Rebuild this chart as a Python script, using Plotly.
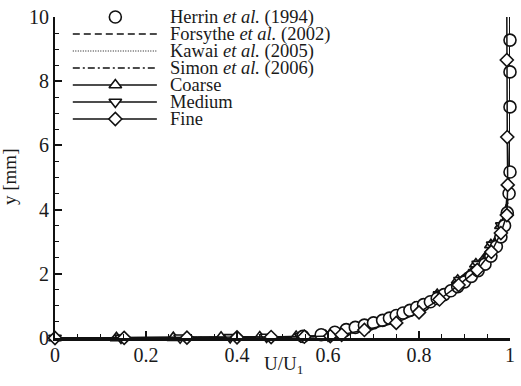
import plotly.graph_objects as go

# Herrin et al. (1994) measurements: U/U1 and y [mm]
herrin_u = [0.545, 0.585, 0.615, 0.64, 0.66, 0.68, 0.70, 0.72, 0.735, 0.75, 0.765, 0.78,
            0.795, 0.81, 0.825, 0.84, 0.855, 0.87, 0.885, 0.90, 0.915, 0.93, 0.945, 0.958,
            0.97, 0.98, 0.988, 0.994, 0.998, 1.0, 1.0, 1.0, 1.0]
herrin_y = [0.05, 0.10, 0.18, 0.26, 0.33, 0.40, 0.47, 0.55, 0.62, 0.70, 0.78, 0.86,
            0.95, 1.04, 1.13, 1.23, 1.35, 1.47, 1.60, 1.75, 1.92, 2.10, 2.30, 2.55,
            2.85, 3.15, 3.50, 3.90, 4.50, 5.17, 7.20, 8.29, 9.28]

# Reference computations (lines only)
forsythe_u = [0, 0.50, 0.59, 0.625, 0.66, 0.70, 0.73, 0.77, 0.805, 0.84, 0.87, 0.905,
              0.935, 0.958, 0.975, 0.986, 0.993, 0.997, 0.999, 1.0, 1.0, 1.0]
forsythe_y = [0, 0.02, 0.05, 0.10, 0.20, 0.35, 0.50, 0.75, 1.0, 1.3, 1.6, 2.0,
              2.4, 2.8, 3.2, 3.6, 4.0, 4.5, 5.0, 6.0, 8.0, 10.0]

kawai_u = [0, 0.52, 0.60, 0.635, 0.67, 0.71, 0.74, 0.78, 0.81, 0.845, 0.875, 0.91,
           0.94, 0.962, 0.978, 0.988, 0.994, 0.998, 1.0, 1.0, 1.0, 1.0]
kawai_y = [0, 0.02, 0.05, 0.10, 0.20, 0.35, 0.50, 0.75, 1.0, 1.3, 1.6, 2.0,
           2.4, 2.8, 3.2, 3.6, 4.0, 4.5, 5.0, 6.0, 8.0, 10.0]

simon_u = [0, 0.48, 0.58, 0.615, 0.655, 0.695, 0.725, 0.765, 0.80, 0.835, 0.865, 0.90,
           0.93, 0.955, 0.972, 0.984, 0.992, 0.996, 0.999, 1.0, 1.0, 1.0]
simon_y = [0, 0.02, 0.05, 0.10, 0.20, 0.35, 0.50, 0.75, 1.0, 1.3, 1.6, 2.0,
           2.4, 2.8, 3.2, 3.6, 4.0, 4.5, 5.0, 6.0, 8.0, 10.0]

# Present simulations on three grids
coarse_u = [0, 0.135, 0.26, 0.365, 0.45, 0.53, 0.595, 0.63, 0.685, 0.74, 0.79, 0.84,
            0.885, 0.925, 0.958, 0.98, 0.992, 0.998, 1.0, 1.0, 1.0]
coarse_y = [0, 0.005, 0.01, 0.02, 0.03, 0.045, 0.07, 0.15, 0.35, 0.60, 0.95, 1.35,
            1.80, 2.30, 2.90, 3.50, 4.20, 5.20, 6.80, 8.50, 10.0]

medium_u = [0, 0.145, 0.275, 0.385, 0.465, 0.54, 0.60, 0.635, 0.69, 0.745, 0.795, 0.845,
            0.89, 0.93, 0.962, 0.982, 0.993, 0.998, 1.0, 1.0, 1.0]
medium_y = [0, 0.005, 0.01, 0.02, 0.03, 0.045, 0.07, 0.15, 0.35, 0.60, 0.95, 1.35,
            1.80, 2.30, 2.90, 3.50, 4.20, 5.20, 6.80, 8.50, 10.0]

fine_u = [0, 0.152, 0.29, 0.40, 0.475, 0.548, 0.605, 0.63, 0.68, 0.75, 0.80, 0.845,
          0.887, 0.928, 0.959, 0.98, 0.993, 0.995, 0.994, 0.993, 0.993]
fine_y = [0, 0.005, 0.01, 0.02, 0.03, 0.04, 0.06, 0.10, 0.25, 0.47, 0.80, 1.20,
          1.65, 2.12, 2.68, 3.27, 3.83, 4.77, 6.26, 8.66, 10.0]

legend_labels = ["Herrin <i>et al.</i> (1994)", "Forsythe <i>et al.</i> (2002)",
                 "Kawai <i>et al.</i> (2005)", "Simon <i>et al.</i> (2006)",
                 "Coarse", "Medium", "Fine"]

FONT = "Liberation Serif"
INK = "#111111"
TXT = "#1a1a1a"
LW = 1.5
MSIZE = 11


def open_marker(symbol, size=MSIZE):
    return dict(symbol=symbol, size=size, color="white", opacity=1,
                line=dict(color=INK, width=1.6))


def symbols_below(ys, top, size):
    # Symbols are only drawn on the lower part of each profile; the line continues above
    return [size if yy < top else 0 for yy in ys]


fig = go.Figure()

fig.add_trace(go.Scatter(x=forsythe_u, y=forsythe_y, mode="lines", cliponaxis=False,
                         line=dict(color=INK, width=LW, dash="7px,4px")))
fig.add_trace(go.Scatter(x=kawai_u, y=kawai_y, mode="lines", cliponaxis=False,
                         line=dict(color=INK, width=1.2, dash="1px,1.5px")))
fig.add_trace(go.Scatter(x=simon_u, y=simon_y, mode="lines", cliponaxis=False,
                         line=dict(color=INK, width=LW, dash="7px,3px,2px,3px")))

m = open_marker("triangle-up")
m["size"] = symbols_below(coarse_y, 4.0, MSIZE)
fig.add_trace(go.Scatter(x=coarse_u, y=coarse_y, mode="lines+markers", cliponaxis=False,
                         line=dict(color=INK, width=LW), marker=m))
m = open_marker("triangle-down")
m["size"] = symbols_below(medium_y, 4.0, MSIZE)
fig.add_trace(go.Scatter(x=medium_u, y=medium_y, mode="lines+markers", cliponaxis=False,
                         line=dict(color=INK, width=LW), marker=m))
fig.add_trace(go.Scatter(x=herrin_u, y=herrin_y, mode="markers", cliponaxis=False,
                         marker=open_marker("circle", 12)))
m = open_marker("diamond", 10)
m["size"] = symbols_below(fine_y, 9.5, 10)
fig.add_trace(go.Scatter(x=fine_u, y=fine_y, mode="lines+markers", cliponaxis=False,
                         line=dict(color=INK, width=LW), marker=m))

# Legend keys drawn on an overlay axis measured in page pixels
ROW0, ROW_STEP = 17, 17
KEY_X0, KEY_X1, KEY_MID, TEXT_X = 73, 158, 116, 169
key_styles = [
    (None, "circle", 12),
    ("7px,4px", None, 0),
    ("1px,1.5px", None, 0),
    ("7px,3px,2px,3px", None, 0),
    ("solid", "triangle-up", MSIZE),
    ("solid", "triangle-down", MSIZE),
    ("solid", "diamond", 10),
]
for i, (dash, sym, size) in enumerate(key_styles):
    row = ROW0 + i * ROW_STEP
    if dash is not None:
        fig.add_trace(go.Scatter(x=[KEY_X0, KEY_X1], y=[row, row], mode="lines",
                                 xaxis="x2", yaxis="y2", cliponaxis=False,
                                 line=dict(color=INK, width=LW if dash != "1px,1.5px" else 1.2,
                                           dash=dash)))
    if sym is not None:
        fig.add_trace(go.Scatter(x=[KEY_MID], y=[row], mode="markers",
                                 xaxis="x2", yaxis="y2", cliponaxis=False,
                                 marker=open_marker(sym, size)))
    fig.add_annotation(x=TEXT_X, y=row, xref="x2", yref="y2", text=legend_labels[i],
                       showarrow=False, xanchor="left", yanchor="middle",
                       font=dict(family=FONT, size=18.5, color=TXT))

# Axis titles
fig.add_annotation(x=0.503, y=-0.085, xref="paper", yref="paper", text="U/U<sub>1</sub>",
                   showarrow=False, xanchor="center", yanchor="middle",
                   font=dict(family=FONT, size=19, color=TXT))
fig.add_annotation(x=-0.1, y=0.5, xref="paper", yref="paper", text="y [mm]",
                   showarrow=False, textangle=-90, xanchor="center", yanchor="middle",
                   font=dict(family=FONT, size=19, color=TXT))

axis_common = dict(
    showgrid=False, zeroline=False, showline=True, linecolor=INK,
    ticks="inside", tickcolor=INK, tickwidth=1.5,
    tickfont=dict(family=FONT, size=20, color=TXT),
)

fig.update_layout(
    width=521, height=386,
    margin=dict(l=55, r=6, t=17, b=48),
    paper_bgcolor="white", plot_bgcolor="white",
    showlegend=False,
    xaxis=dict(range=[0, 1], dtick=0.2, tickformat="~g", ticklen=7, linewidth=2.5,
               ticklabelstandoff=-3,
               minor=dict(dtick=0.05, ticks="inside", ticklen=4, tickcolor=INK, tickwidth=1.2),
               **axis_common),
    yaxis=dict(range=[0, 10], dtick=2, ticklen=7, linewidth=2,
               minor=dict(dtick=0.5, ticks="inside", ticklen=4, tickcolor=INK, tickwidth=1.2),
               **axis_common),
    xaxis2=dict(overlaying="x", range=[55, 515], visible=False, fixedrange=True),
    yaxis2=dict(overlaying="y", range=[338, 17], visible=False, fixedrange=True),
)

fig.write_html("out.html")
